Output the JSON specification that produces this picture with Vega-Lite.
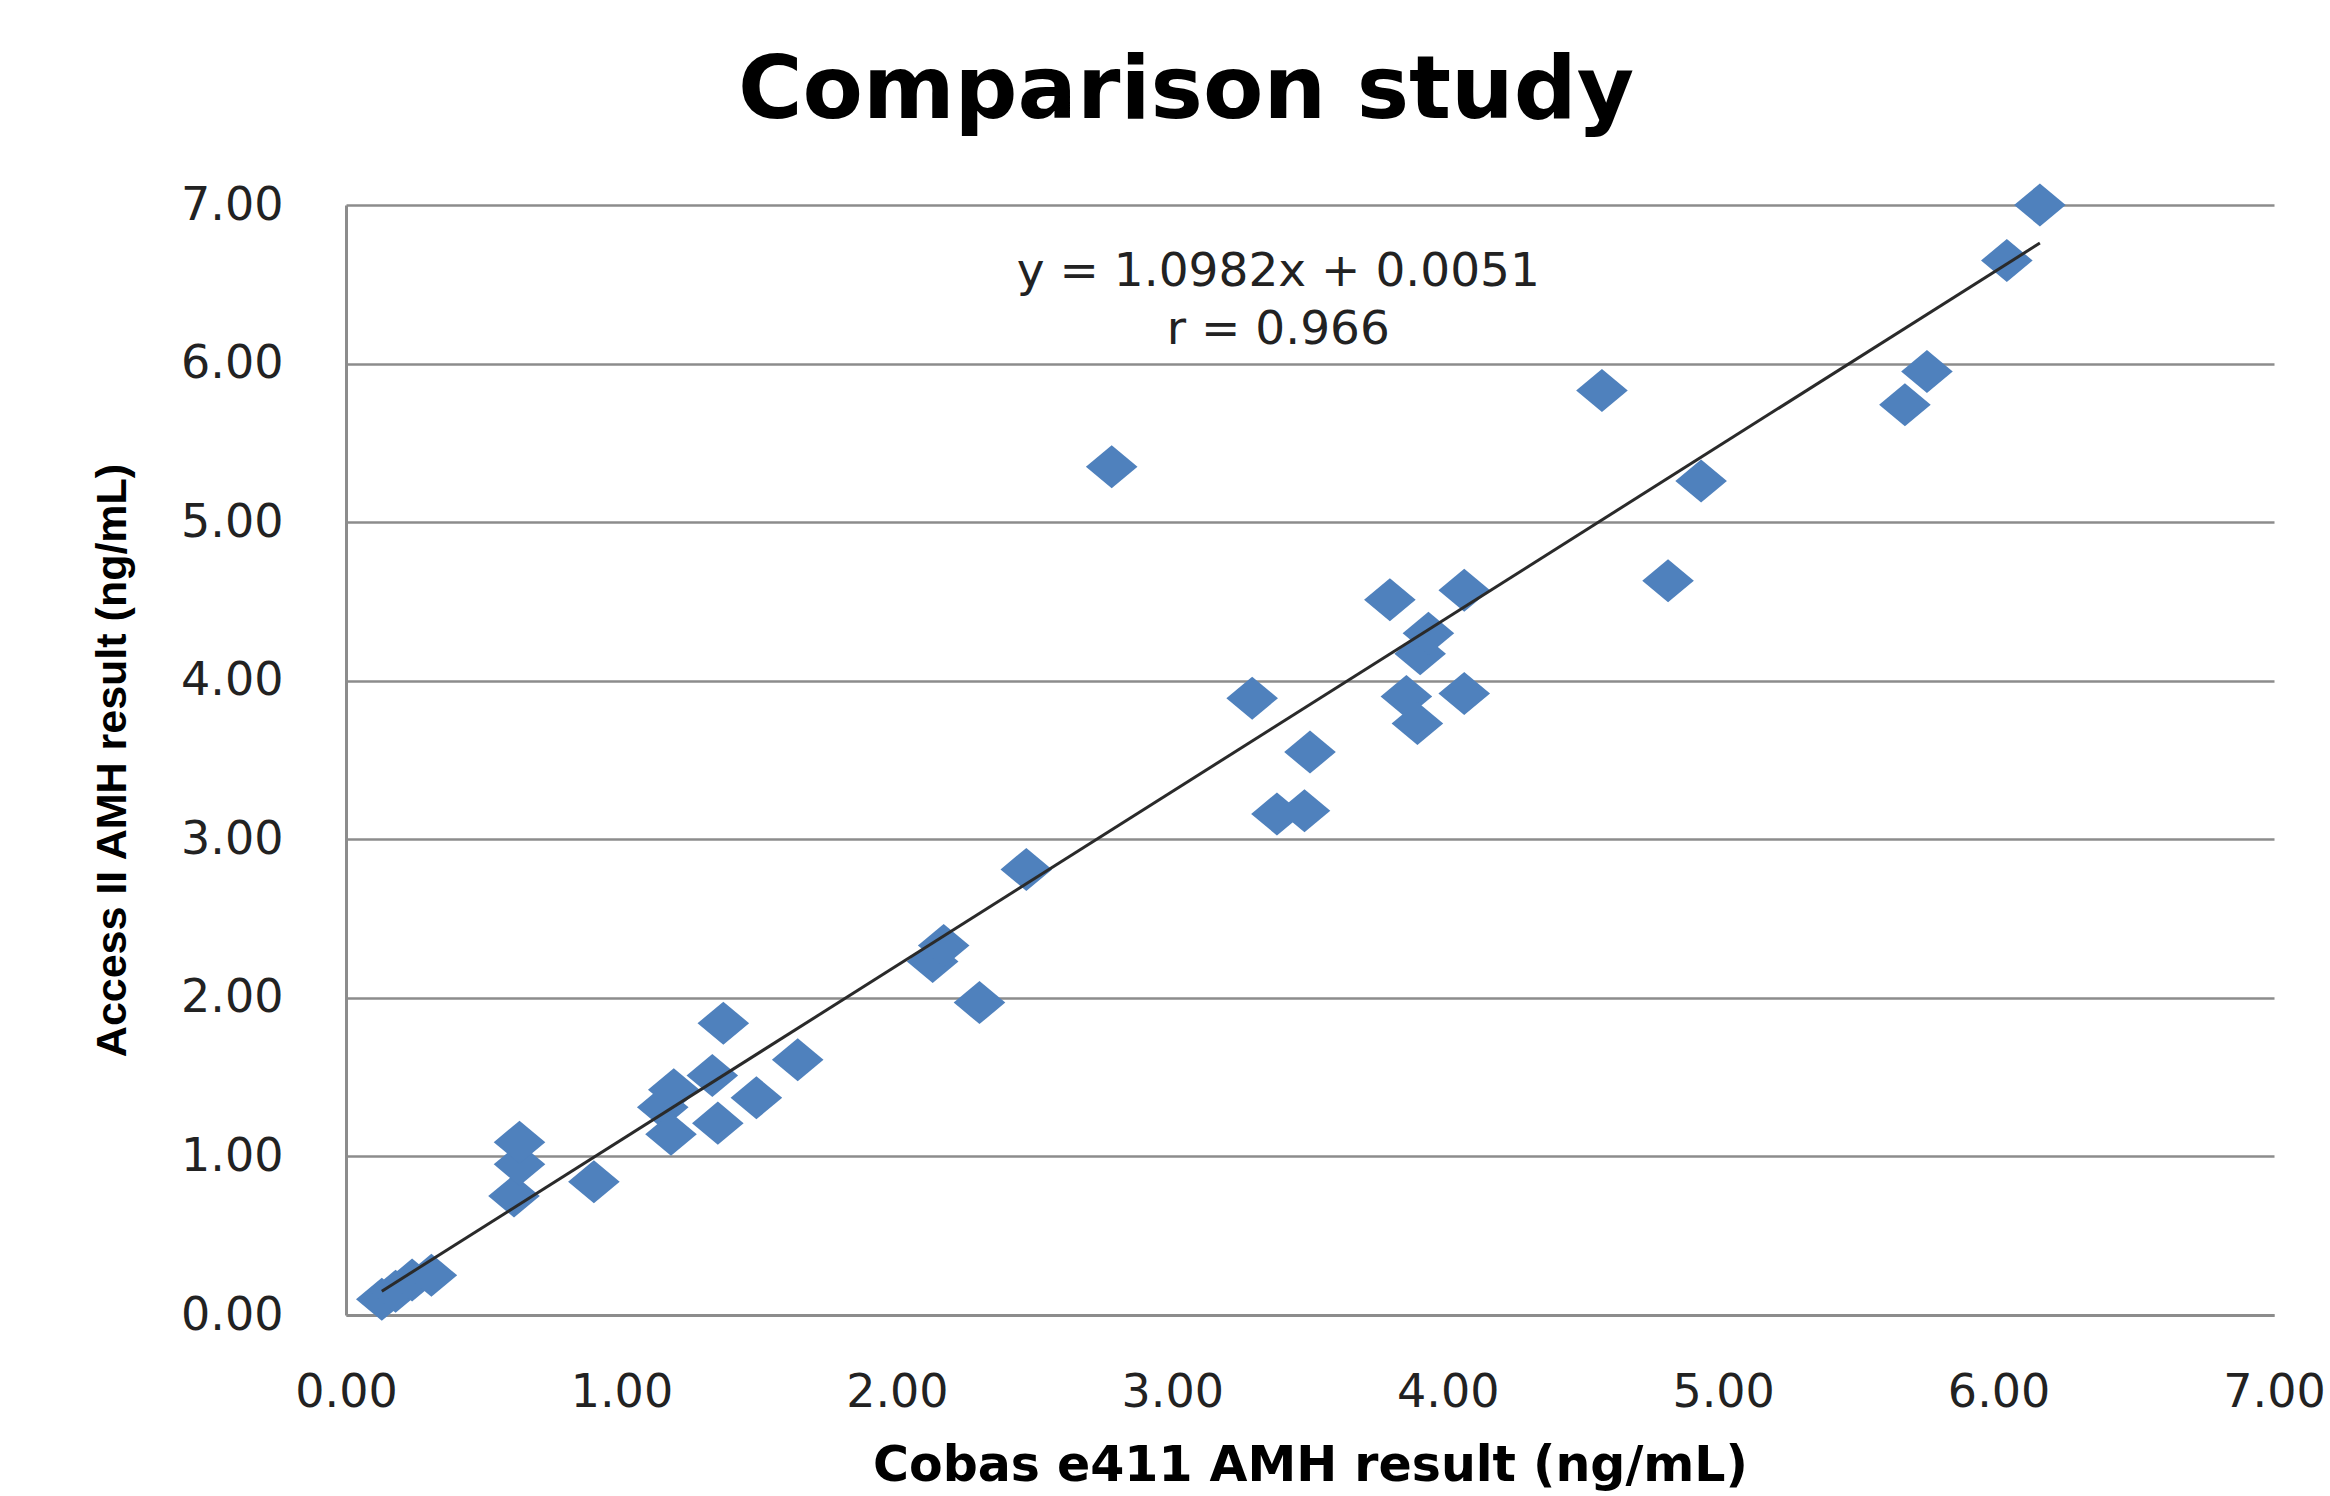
{
  "$schema": "https://vega.github.io/schema/vega-lite/v6.json",
  "autosize": "none",
  "width": 1928,
  "height": 1110,
  "padding": {"left": 346, "top": 205, "right": 56, "bottom": 181},
  "background": "white",
  "title": {
    "text": "Comparison study",
    "anchor": "middle",
    "frame": "group",
    "dx": -124,
    "font": "DejaVu Sans",
    "fontSize": 88,
    "fontWeight": "bold",
    "color": "black",
    "baseline": "alphabetic",
    "offset": -24
  },
  "config": {
    "view": {"stroke": null},
    "axis": {
      "labelFont": "DejaVu Sans",
      "labelFontSize": 46,
      "labelColor": "#222222",
      "ticks": false,
      "domainColor": "#8c8c8c",
      "domainWidth": 3,
      "gridColor": "#8c8c8c",
      "gridWidth": 2.5,
      "labelOverlap": false,
      "labelBound": false,
      "labelFlush": false,
      "titleColor": "black"
    }
  },
  "layer": [
    {
      "data": {
        "values": [
          {"cobas": 0.13, "access": 0.10},
          {"cobas": 0.18, "access": 0.15},
          {"cobas": 0.24, "access": 0.22},
          {"cobas": 0.31, "access": 0.25},
          {"cobas": 0.61, "access": 0.75},
          {"cobas": 0.63, "access": 0.95},
          {"cobas": 0.63, "access": 1.09},
          {"cobas": 0.90, "access": 0.84},
          {"cobas": 1.15, "access": 1.31},
          {"cobas": 1.19, "access": 1.42},
          {"cobas": 1.18, "access": 1.14},
          {"cobas": 1.33, "access": 1.51},
          {"cobas": 1.35, "access": 1.21},
          {"cobas": 1.49, "access": 1.37},
          {"cobas": 1.37, "access": 1.84},
          {"cobas": 1.64, "access": 1.61},
          {"cobas": 2.13, "access": 2.23},
          {"cobas": 2.17, "access": 2.33},
          {"cobas": 2.30, "access": 1.97},
          {"cobas": 2.47, "access": 2.81},
          {"cobas": 2.78, "access": 5.35},
          {"cobas": 3.29, "access": 3.89},
          {"cobas": 3.38, "access": 3.16},
          {"cobas": 3.48, "access": 3.18},
          {"cobas": 3.50, "access": 3.55},
          {"cobas": 3.79, "access": 4.51},
          {"cobas": 3.85, "access": 3.90},
          {"cobas": 3.89, "access": 3.73},
          {"cobas": 3.90, "access": 4.17},
          {"cobas": 3.93, "access": 4.30},
          {"cobas": 4.06, "access": 3.92},
          {"cobas": 4.06, "access": 4.57},
          {"cobas": 4.56, "access": 5.83},
          {"cobas": 4.80, "access": 4.63},
          {"cobas": 4.92, "access": 5.26},
          {"cobas": 5.66, "access": 5.74},
          {"cobas": 5.74, "access": 5.95},
          {"cobas": 6.03, "access": 6.65},
          {"cobas": 6.15, "access": 7.00}
        ]
      },
      "mark": {
        "type": "point",
        "shape": "M-1.2,0L0,-1L1.2,0L0,1Z",
        "filled": true,
        "color": "#4f81bd",
        "opacity": 1,
        "size": 1850,
        "clip": false
      },
      "encoding": {
        "x": {
          "field": "cobas",
          "type": "quantitative",
          "scale": {"domain": [0, 7], "nice": false, "zero": false},
          "axis": {
            "values": [0, 1, 2, 3, 4, 5, 6, 7],
            "format": ".2f",
            "grid": false,
            "labelPadding": 55,
            "title": "Cobas e411 AMH result (ng/mL)",
            "titleFont": "DejaVu Sans",
            "titleFontSize": 49,
            "titleFontWeight": "bold",
            "titlePadding": 26
          }
        },
        "y": {
          "field": "access",
          "type": "quantitative",
          "scale": {"domain": [0, 7], "nice": false, "zero": false},
          "axis": {
            "values": [0, 1, 2, 3, 4, 5, 6, 7],
            "format": ".2f",
            "grid": true,
            "labelPadding": 63,
            "title": "Access II AMH result (ng/mL)",
            "titleFont": "Liberation Sans",
            "titleFontSize": 43,
            "titleFontWeight": "bold",
            "titlePadding": 46
          }
        }
      }
    },
    {
      "data": {
        "values": [
          {"cobas": 0.13, "access": 0.15},
          {"cobas": 6.15, "access": 6.76}
        ]
      },
      "mark": {"type": "line", "color": "#2a2a2a", "strokeWidth": 3},
      "encoding": {
        "x": {"field": "cobas", "type": "quantitative"},
        "y": {"field": "access", "type": "quantitative"}
      }
    },
    {
      "data": {"values": [{"label": "trend"}]},
      "mark": {
        "type": "text",
        "text": ["y = 1.0982x + 0.0051", "r = 0.966"],
        "font": "DejaVu Sans",
        "fontSize": 47,
        "color": "#222222",
        "align": "center",
        "baseline": "alphabetic",
        "lineHeight": 58
      },
      "encoding": {
        "x": {"datum": 3.385},
        "y": {"datum": 6.49}
      }
    }
  ]
}
